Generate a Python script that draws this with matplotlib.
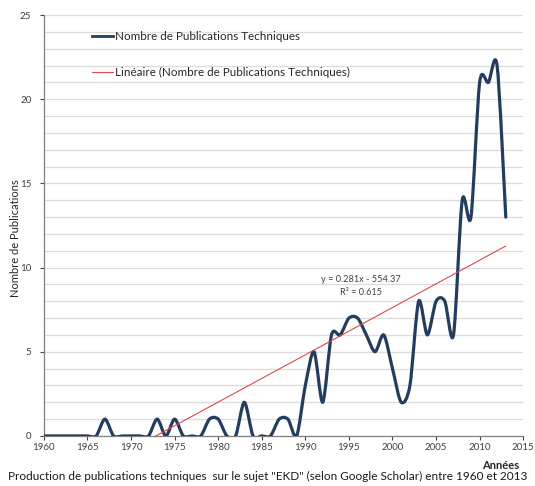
import numpy as np
import matplotlib
matplotlib.use("Agg")
import matplotlib.pyplot as plt
from matplotlib.path import Path
from matplotlib.patches import PathPatch
from matplotlib.lines import Line2D

plt.rcParams['font.family'] = ['Lato', 'DejaVu Sans']

years = list(range(1960, 2014))
publications = [0, 0, 0, 0, 0, 0, 0, 1, 0, 0,      # 1960-1969
                0, 0, 0, 1, 0, 1, 0, 0, 0, 1,      # 1970-1979
                1, 0, 0, 2, 0, 0, 0, 1, 1, 0,      # 1980-1989
                3, 5, 2, 6, 6, 7, 7, 6, 5, 6,      # 1990-1999
                4, 2, 3, 8, 6, 8, 8, 6, 14, 13,    # 2000-2009
                21, 21, 22, 13]                    # 2010-2013
trend_slope = 0.281
trend_intercept = -554.37
series_label = "Nombre de Publications Techniques"
trend_label = "Linéaire (Nombre de Publications Techniques)"
x_ticks = [1960, 1965, 1970, 1975, 1980, 1985, 1990, 1995, 2000, 2005, 2010, 2015]
y_ticks = [0, 5, 10, 15, 20, 25]

navy = "#233D5E"
red = "#E0474C"

fig = plt.figure(figsize=(5.35, 4.86), dpi=100)
ax = fig.add_axes([0.082, 0.103, 0.896, 0.866])
ax.set_xlim(1960, 2015)
ax.set_ylim(0, 25)

# smoothed series (Excel-like Bezier smoothing)
x = np.array(years, dtype=float)
y = np.array(publications, dtype=float)
n = len(x)
k = 7.0
verts = [(x[0], y[0])]
codes = [Path.MOVETO]
for i in range(n - 1):
    p0 = np.array([x[i - 1], y[i - 1]]) if i > 0 else np.array([x[i], y[i]])
    p1 = np.array([x[i], y[i]])
    p2 = np.array([x[i + 1], y[i + 1]])
    p3 = np.array([x[i + 2], y[i + 2]]) if i + 2 < n else p2
    c1 = p1 + (p2 - p0) / k
    c2 = p2 - (p3 - p1) / k
    verts += [tuple(c1), tuple(c2), tuple(p2)]
    codes += [Path.CURVE4] * 3
patch = PathPatch(Path(verts, codes), facecolor="none", edgecolor=navy,
                  lw=2.3, capstyle="round", joinstyle="round", zorder=3)
ax.add_patch(patch)

# linear trend
tx = np.array([years[0], years[-1]], dtype=float)
ax.plot(tx, trend_slope * tx + trend_intercept, color=red, lw=0.8, zorder=4)

ax.text(1996.4, 9.3, "y = 0.281x - 554.37", fontsize=6.6, ha="center",
        va="center", color="#404040")
ax.text(1996.4, 8.5, "R² = 0.615", fontsize=6.6, ha="center",
        va="center", color="#404040")

# grid
ax.set_yticks(y_ticks)
ax.set_yticks(range(0, 26), minor=True)
ax.set_xticks(x_ticks)
ax.grid(axis="y", which="both", color="#DCDCDC", lw=0.9)
ax.set_axisbelow(True)
for s in ["top", "right"]:
    ax.spines[s].set_visible(False)
for s in ["left", "bottom"]:
    ax.spines[s].set_color("#808080")
    ax.spines[s].set_linewidth(0.9)
ax.tick_params(axis="both", which="major", labelsize=7.0, colors="#404040",
               length=3, width=0.8, direction="out")
ax.tick_params(axis="y", which="minor", length=0)
ax.tick_params(axis="y", pad=6)
ax.tick_params(axis="x", pad=2)

ax.set_ylabel("Nombre de Publications", fontsize=8, color="#262626")
ax.yaxis.set_label_coords(-0.048, 0.47)

fig.text(0.97, 0.042, "Années", fontsize=8, fontweight="bold", ha="right",
         va="center", color="#262626")
fig.text(0.5, 0.02, 'Production de publications techniques  sur le sujet "EKD" (selon Google Scholar) entre 1960 et 2013',
         fontsize=8.5, ha="center", va="center", color="#1a1a1a")

handles = [Line2D([], [], color=navy, lw=2.0), Line2D([], [], color=red, lw=0.8)]
leg = ax.legend(handles, [series_label, trend_label], loc="upper left",
                bbox_to_anchor=(0.1, 0.961), frameon=False, fontsize=8.4,
                handlelength=1.8, handletextpad=0.15, labelspacing=2.1,
                borderpad=0, borderaxespad=0)
for t in leg.get_texts():
    t.set_color("#262626")

fig.savefig("out.png", dpi=100)
